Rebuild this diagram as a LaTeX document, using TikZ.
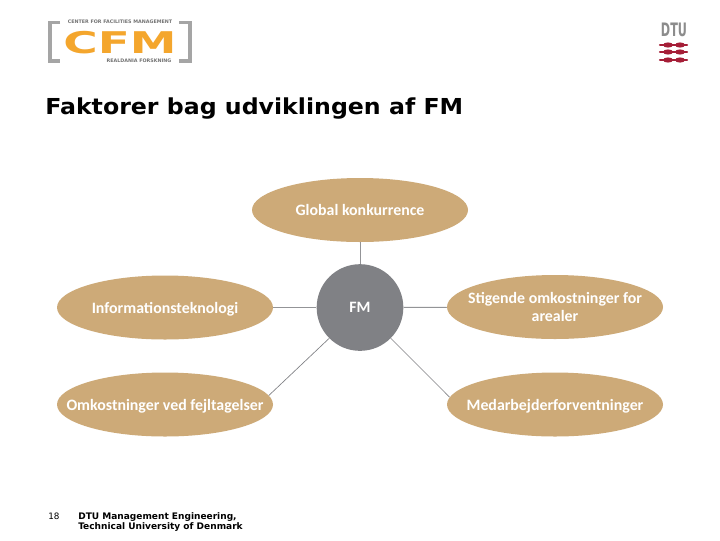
\documentclass[tikz,border=0pt]{standalone}
\usepackage{fontspec}
\setmainfont{DejaVu Sans}
\newfontfamily\lab{Carlito}
\newfontfamily\verd{DejaVu Sans}
\usetikzlibrary{shapes.geometric}
\definecolor{ovaltan}{RGB}{205,170,120}
\definecolor{fmgrey}{RGB}{128,129,133}
\definecolor{orangeL}{RGB}{244,166,45}
\definecolor{logoG}{RGB}{165,165,165}
\definecolor{dtured}{RGB}{165,30,55}
\newcommand{\ovtext}[1]{\makebox[0pt][c]{\raisebox{-4.5pt}[0pt][0pt]{\begin{tabular}{@{}c@{}}#1\end{tabular}}}}
\tikzset{
  oval/.style={ellipse,fill=ovaltan,minimum width=162pt,minimum height=48pt,inner sep=0pt,text=white,
     font=\lab\bfseries\fontsize{11.9pt}{13.5pt}\selectfont},
  hub/.style={circle,fill=fmgrey,minimum size=65pt,inner sep=0pt,text=white,font=\lab\bfseries\fontsize{11.9pt}{12pt}\selectfont},
  link/.style={draw=fmgrey!85,line width=0.75pt},
  thinlink/.style={draw=fmgrey,line width=0.5pt},
  brk/.style={draw=logoG,line width=2.6pt},
  sm/.style={inner sep=0pt,text=black!55,font=\verd\bfseries\fontsize{3.6pt}{4pt}\selectfont},
  dturung/.style={draw=dtured,line width=1.6pt,line cap=round}
}
\begin{document}
\begin{tikzpicture}[x=0.75pt,y=-0.75pt]
\useasboundingbox[fill=white] (0,0) rectangle (720,540);
% ovals and hub
\node[oval] (g) at (360,210) {\ovtext{Global konkurrence}};
\node[oval] (i) at (165,307.5) {\ovtext{Informationsteknologi}};
\node[oval] (s) at (555,307) {\ovtext{Stigende omkostninger for\\arealer}};
\node[oval] (o) at (165,404.5) {\ovtext{Omkostninger ved fejltagelser}};
\node[oval] (m) at (555,404.5) {\ovtext{Medarbejderforventninger}};
\node[hub] (f) at (360,307.5) {\ovtext{FM}};
\draw[link] (g) -- (f);
\draw[link] (i) -- (f);
\draw[link] (f) -- (s);
\draw[thinlink] (f.225) -- (o.5);
\draw[thinlink] (f.-45) -- (m.176);
% title
\node[anchor=base west,inner sep=0pt,font=\verd\bfseries\fontsize{16.5pt}{18pt}\selectfont] (t) at (45,114) {\scalebox{1.075}[1]{Faktorer bag udviklingen af FM}};
% footer
\node[anchor=base west,inner sep=0pt,font=\verd\fontsize{6.6pt}{8pt}\selectfont] (n) at (48,519) {18};
\node[anchor=base west,inner sep=0pt,font=\verd\bfseries\fontsize{6.77pt}{8pt}\selectfont] (d1) at (78,519) {DTU Management Engineering,};
\node[anchor=base west,inner sep=0pt,font=\verd\bfseries\fontsize{6.77pt}{8pt}\selectfont] (d2) at (78,529.5) {Technical University of Denmark};
% CFM logo
\draw[brk] (60,22.5) -- (50,22.5) -- (50,61) -- (60,61);
\draw[brk] (179,22.5) -- (190,22.5) -- (190,61) -- (179,61);
\node[inner sep=0pt,text=orangeL,font=\verd\bfseries\fontsize{22pt}{22pt}\selectfont] (c) at (120,42.5) {\scalebox{1.6}[1.02]{CFM}};
\node[sm] (c1) at (120,21.5) {CENTER FOR FACILITIES MANAGEMENT};
\node[sm] (c2) at (139,60.5) {REALDANIA FORSKNING};
% DTU logo
\node[inner sep=0pt,text=black!45,font=\verd\bfseries\fontsize{12pt}{12pt}\selectfont] (du) at (674,30) {\scalebox{0.7}[1.16]{DTU}};
\foreach \yy in {45,52,60}{
  \draw[dturung] (660,\yy) -- (687,\yy);
  \fill[dtured] (668,\yy) ellipse (5 and 2.6);
  \fill[dtured] (680,\yy) ellipse (5 and 2.6);
}
\end{tikzpicture}
\end{document}
